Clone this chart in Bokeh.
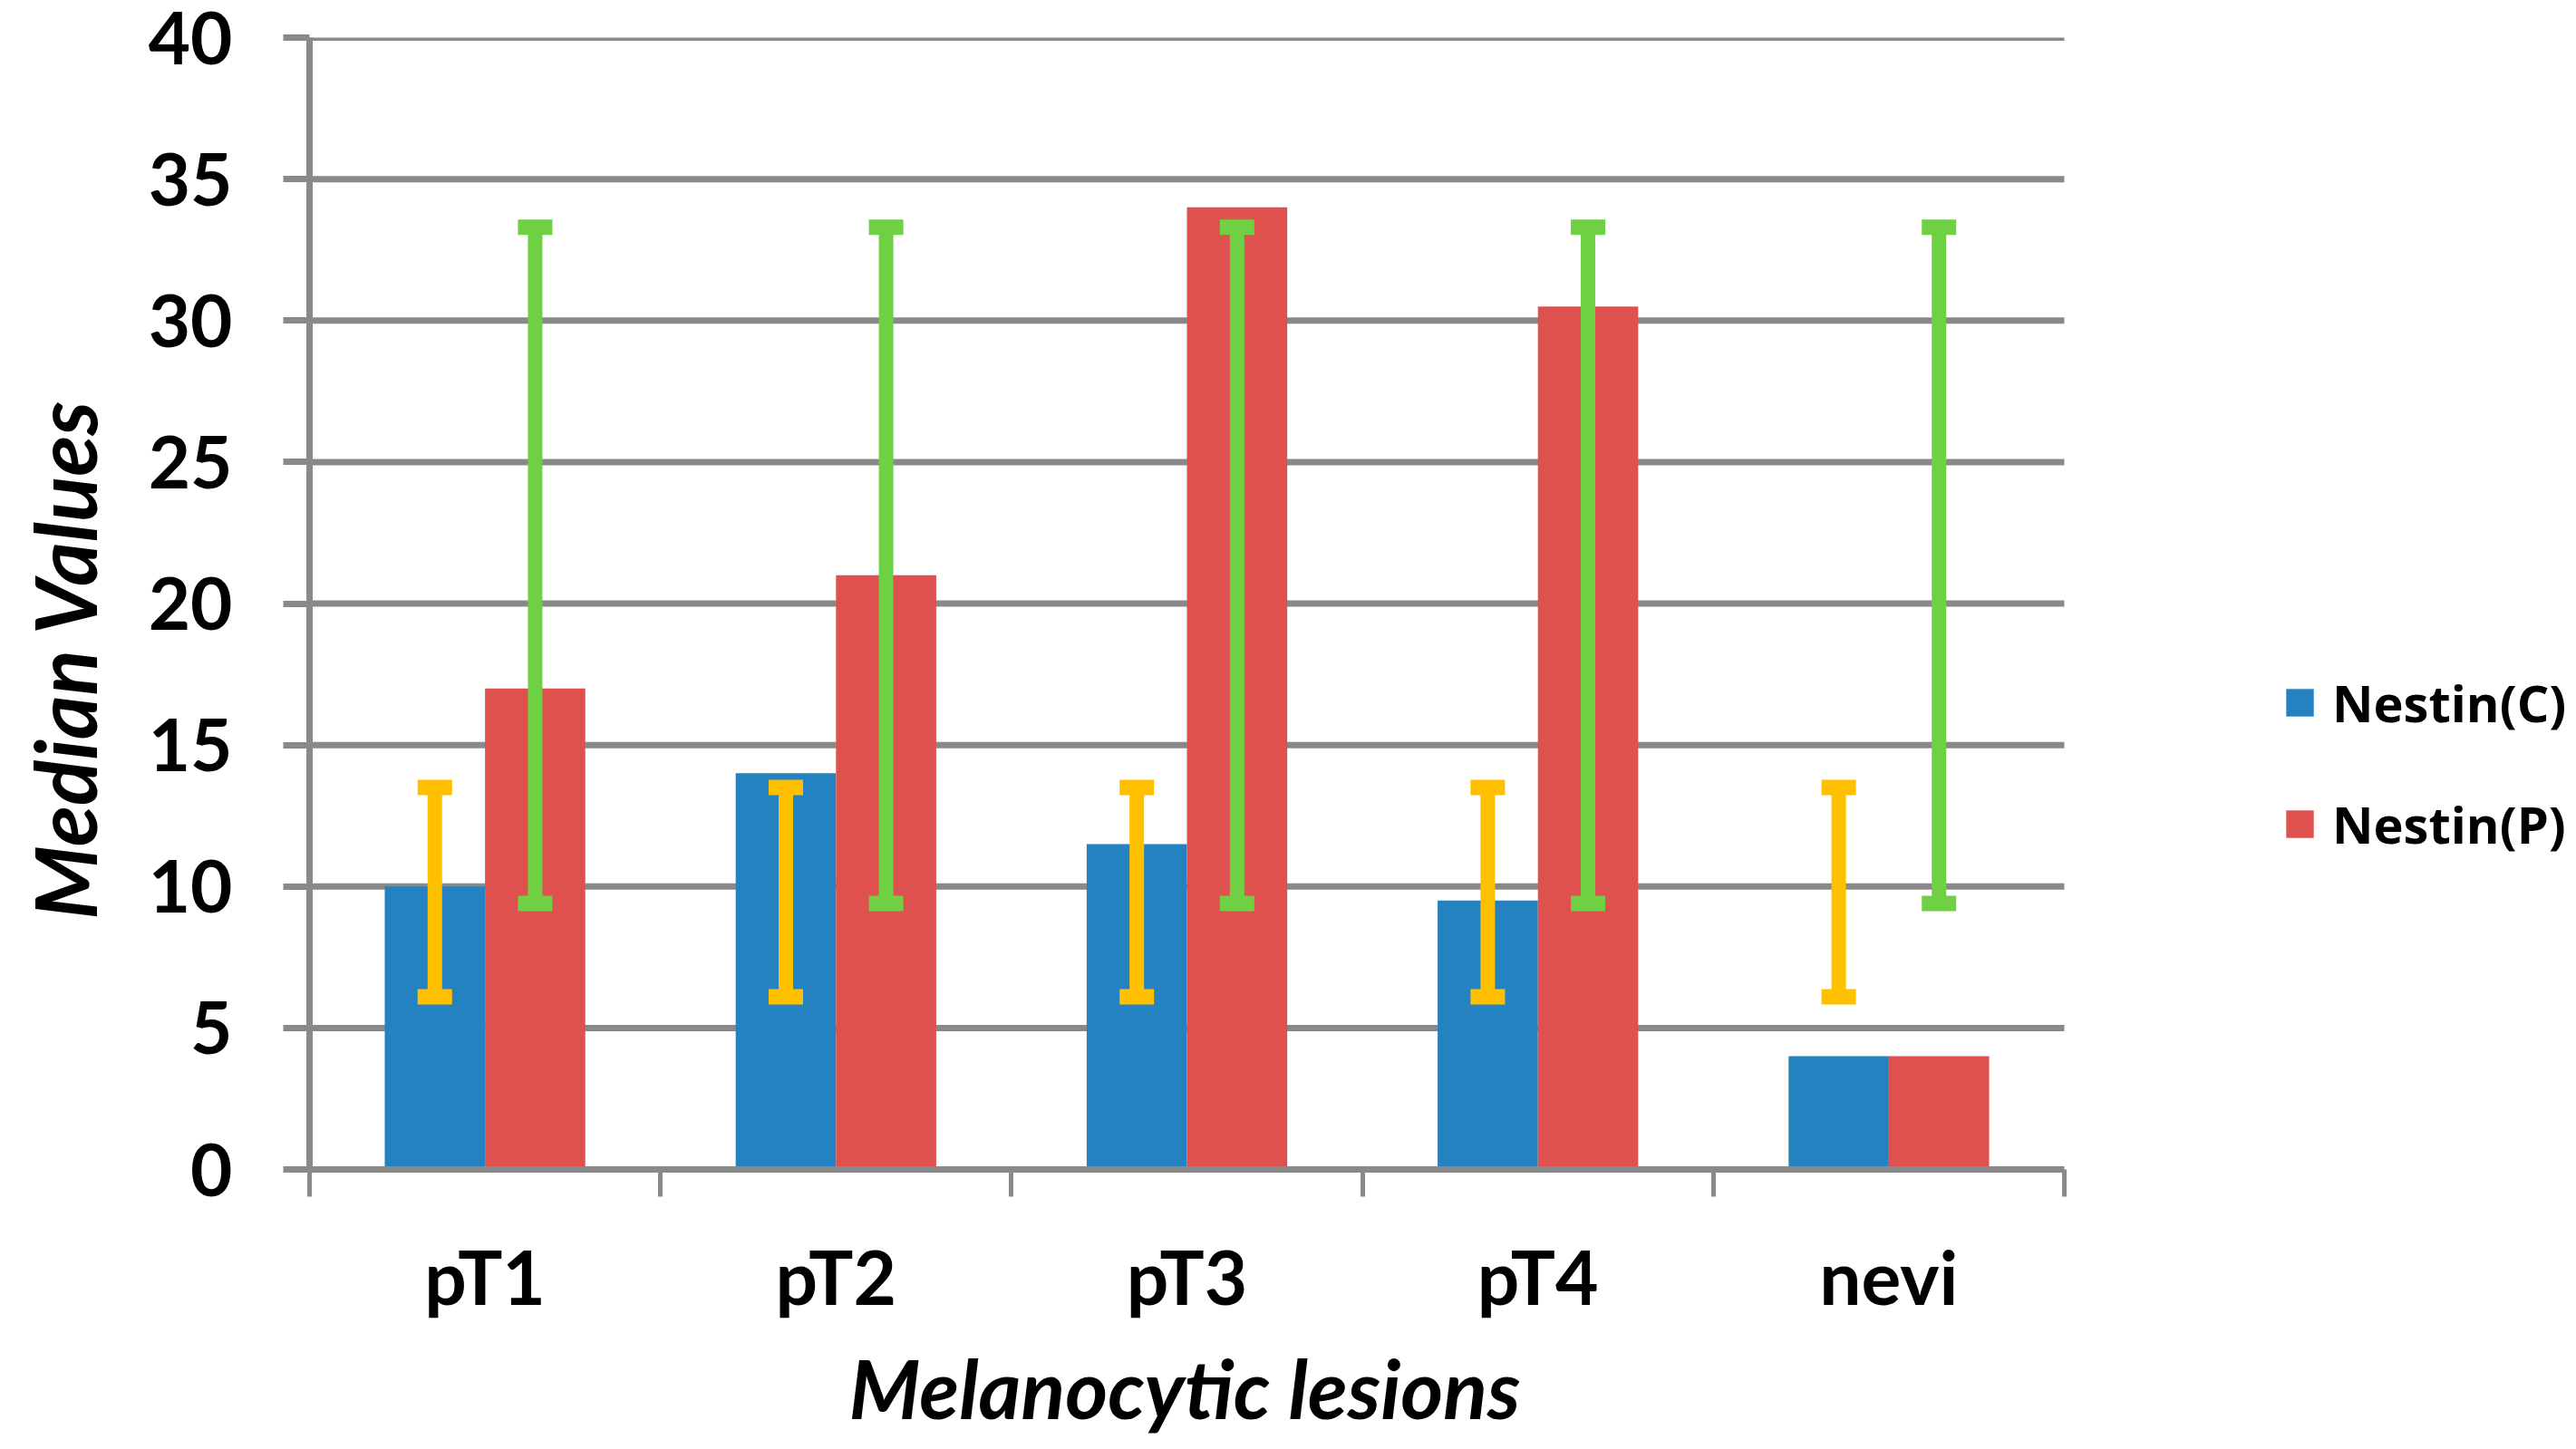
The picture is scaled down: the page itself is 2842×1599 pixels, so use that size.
from bokeh.plotting import figure
from bokeh.models import (ColumnDataSource, Range1d, FixedTicker, Whisker, TeeHead,
                          Legend, LegendItem, Title)
from bokeh.embed import file_html
from bokeh.resources import INLINE

# data
categories = ["pT1", "pT2", "pT3", "pT4", "nevi"]
nestin_c = [10, 14, 11.5, 9.5, 4]
nestin_p = [17, 21, 34, 30.5, 4]
err_c_low = [6.1, 6.1, 6.1, 6.1, 6.1]
err_c_high = [13.5, 13.5, 13.5, 13.5, 13.5]
err_p_low = [9.4, 9.4, 9.4, 9.4, 9.4]
err_p_high = [33.3, 33.3, 33.3, 33.3, 33.3]
y_ticks = [0, 5, 10, 15, 20, 25, 30, 35, 40]

BLUE = "#2582C0"
RED = "#DE514F"
ORANGE = "#FFC000"
GREEN = "#70D044"
GRAY = "#898989"

W, H = 2842, 1599
LEFT, RIGHT, TOP, BOTTOM = 341, 0, 41, 309
PLOT_W = 1936          # pixel width of the category area
n = len(categories)
frame_w = W - LEFT - RIGHT
x_end = n * frame_w / PLOT_W   # frame runs on past the plot to hold the legend

bar_w = 1 / 3.5  # two bars + 150% gap
centers = [i + 0.5 for i in range(n)]
x_c = [c - bar_w / 2 for c in centers]
x_p = [c + bar_w / 2 for c in centers]

src_c = ColumnDataSource(data=dict(x=x_c, top=nestin_c, lo=err_c_low, hi=err_c_high))
src_p = ColumnDataSource(data=dict(x=x_p, top=nestin_p, lo=err_p_low, hi=err_p_high))

p = figure(width=W, height=H, output_backend="svg", toolbar_location=None,
           x_range=Range1d(0, x_end), y_range=Range1d(0, 40),
           min_border_left=LEFT, min_border_right=RIGHT, min_border_top=TOP,
           min_border_bottom=BOTTOM)
p.outline_line_color = None
p.background_fill_color = "white"
p.border_fill_color = "white"
p.xgrid.grid_line_color = None
p.ygrid.grid_line_color = None

# horizontal gridlines only across the category area
grid_y = y_ticks[1:]
p.segment(x0=[0] * len(grid_y), x1=[n] * len(grid_y), y0=grid_y, y1=grid_y,
          line_color=GRAY, line_width=7)

rc = p.vbar(x="x", top="top", width=bar_w, bottom=0, source=src_c,
            fill_color=BLUE, line_color=None)
rp = p.vbar(x="x", top="top", width=bar_w, bottom=0, source=src_p,
            fill_color=RED, line_color=None)

for src, col in [(src_c, ORANGE), (src_p, GREEN)]:
    w = Whisker(source=src, base="x", lower="lo", upper="hi", dimension="height",
                line_color=col, line_width=16, level="annotation",
                upper_head=TeeHead(size=38, line_color=col, line_width=17),
                lower_head=TeeHead(size=38, line_color=col, line_width=17))
    p.add_layout(w)

# y axis
p.yaxis.ticker = FixedTicker(ticks=y_ticks)
p.yaxis.axis_line_color = GRAY
p.yaxis.axis_line_width = 7
p.yaxis.major_tick_line_color = GRAY
p.yaxis.major_tick_line_width = 7
p.yaxis.major_tick_out = 29
p.yaxis.major_tick_in = 0
p.yaxis.minor_tick_line_color = None
p.yaxis.major_label_standoff = 56
p.yaxis.major_label_text_font = "Lato"
p.yaxis.major_label_text_font_style = "bold"
p.yaxis.major_label_text_font_size = "80px"
p.yaxis.major_label_text_color = "black"
# trailing no-break spaces push the title a little below the frame's middle
p.yaxis.axis_label = "Median Values" + "\u00a0" * 6
p.yaxis.axis_label_standoff = 34
p.yaxis.axis_label_text_font = "Lato"
p.yaxis.axis_label_text_font_style = "bold italic"
p.yaxis.axis_label_text_font_size = "93px"
p.yaxis.axis_label_text_color = "black"

# x axis: labels at category centres, ticks at boundaries
p.xaxis.bounds = (0, n)
p.xaxis.ticker = FixedTicker(ticks=centers, minor_ticks=list(range(n + 1)))
p.xaxis.major_label_overrides = {c: lab for c, lab in zip(centers, categories)}
p.xaxis.axis_line_color = GRAY
p.xaxis.axis_line_width = 7
p.xaxis.major_tick_line_color = None
p.xaxis.major_tick_out = 0
p.xaxis.major_tick_in = 0
p.xaxis.minor_tick_line_color = GRAY
p.xaxis.minor_tick_line_width = 5
p.xaxis.minor_tick_out = 30
p.xaxis.minor_tick_in = 0
p.xaxis.major_label_standoff = 38
p.xaxis.major_label_text_font = "Lato"
p.xaxis.major_label_text_font_style = "bold"
p.xaxis.major_label_text_font_size = "82px"
p.xaxis.major_label_text_color = "black"

# x title, placed from the left edge of the category area
p.add_layout(Title(text="Melanocytic lesions", align="left", offset=595,
                   vertical_align="bottom", standoff=30,
                   text_font="Lato", text_font_style="bold italic",
                   text_font_size="90px", text_color="black"), "below")

legend = Legend(items=[LegendItem(label="Nestin(C)", renderers=[rc]),
                       LegendItem(label="Nestin(P)", renderers=[rp])],
                location=(2177, 343), orientation="vertical",
                glyph_width=38, glyph_height=38, label_standoff=17,
                label_height=38,
                label_text_font="Open Sans", label_text_font_style="bold",
                label_text_font_size="56px", label_text_color="black",
                spacing=58, padding=0, margin=0,
                border_line_color=None, background_fill_alpha=0)
p.add_layout(legend)

open("out.html", "w").write(file_html(p, INLINE))
